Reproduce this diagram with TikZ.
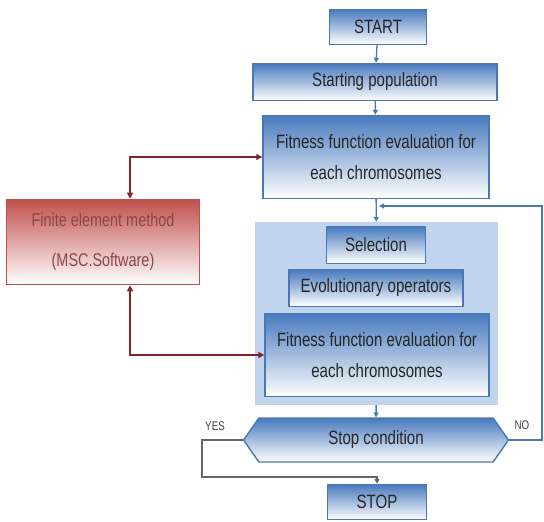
\documentclass[tikz,border=0pt]{standalone}
\usepackage{fontspec}
\newfontfamily\narrowsf[FakeStretch=0.78]{Liberation Sans}
\usetikzlibrary{arrows.meta,shapes.symbols}

\definecolor{boxblue}{RGB}{72,122,190}
\definecolor{lineblue}{RGB}{74,120,180}
\definecolor{groupblue}{RGB}{192,212,238}
\definecolor{femred}{RGB}{192,80,77}
\definecolor{femtext}{RGB}{140,70,70}
\definecolor{linkred}{RGB}{128,36,40}

\begin{document}
\begin{tikzpicture}[x=1pt,y=-1pt,
  box/.style={draw=lineblue,line width=1.4pt,top color=boxblue,bottom color=white,
    text=black!85,font=\narrowsf\fontsize{19.3}{31}\selectfont,align=center,inner sep=0pt},
  group/.style={fill=groupblue,inner sep=0pt},
  fembox/.style={draw=femred,line width=1.6pt,top color=femred,bottom color=white,
    text=femtext,font=\narrowsf\fontsize{18.5}{40}\selectfont,align=center,inner sep=0pt},
  flow/.style={draw=lineblue,line width=1.3pt,-{Triangle[length=5pt,width=5pt]}},
  link/.style={draw=linkred,line width=1.3pt,{Triangle[length=6pt,width=6pt]}-{Triangle[length=6pt,width=6pt]}},
  yesno/.style={text=black!75,font=\narrowsf\fontsize{12.5}{14}\selectfont}]
\useasboundingbox (0,0) rectangle (544,522);

% loop of the genetic algorithm
\node[group,minimum width=243pt,minimum height=183pt] (ga) at (376.5,313.5) {};

\node[box,minimum width=97pt,minimum height=35pt] (start) at (378,27) {START};
\node[box,minimum width=244pt,minimum height=37pt] (pop) at (375,82) {Starting population};
\node[box,minimum width=226pt,minimum height=83pt] (fit1) at (376,157)
  {Fitness function evaluation for\\each chromosomes};
\node[box,minimum width=99pt,minimum height=37pt] (sel) at (376,245) {Selection};
\node[box,minimum width=174pt,minimum height=37pt] (evo) at (376,288) {Evolutionary operators};
\node[box,minimum width=224pt,minimum height=83pt] (fit2) at (377,355)
  {Fitness function evaluation for\\each chromosomes};
\node[box,signal,signal to=west and east,signal pointer angle=110,
  minimum width=265pt,minimum height=44pt] (stop) at (376,440) {Stop condition};
\node[box,minimum width=99pt,minimum height=35pt] (stopend) at (377,502) {STOP};

\node[fembox,minimum width=193pt,minimum height=85pt] (fem) at (103,242)
  {Finite element method\\(MSC.Software)};

\node[yesno] (yes) at (215,426) {YES};
\node[yesno] (no) at (522,425) {NO};

\coordinate (merge) at (376,206);
\coordinate (noturn) at (542,206);
\coordinate (yesturn) at (202,477);

% main flow
\draw[flow] (start) -- (pop);
\draw[flow] (pop) -- (fit1);
\draw[flow] (fit1) -- (ga);
\draw[flow] (ga) -- (stop);
\draw[flow,draw=black!60] (stop.west) -| (yesturn) -| (stopend.north);
\draw[flow,shorten >=3pt] (stop.east) -| (noturn) -- (merge);

% links to the FE solver
\draw[link] ([xshift=27pt]fem.north) |- (fit1.west);
\draw[link] ([xshift=27pt]fem.south) |- (fit2.west);
\end{tikzpicture}
\end{document}
